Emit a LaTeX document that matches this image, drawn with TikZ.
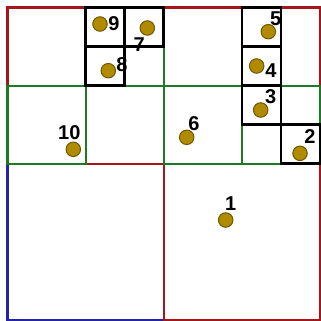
\documentclass[tikz,border=0pt]{standalone}
\usepackage{fontspec}
\setmainfont{Liberation Sans}
\definecolor{qred}{HTML}{A3171B}
\definecolor{qgreen}{HTML}{1E7A24}
\definecolor{qblue}{HTML}{2424A8}
\definecolor{dotfill}{HTML}{B08A00}
\definecolor{dotline}{HTML}{6E5800}
\tikzset{
  bluebox/.style={draw=qblue, line width=2.2pt},
  redbox/.style={draw=qred, line width=2.2pt},
  greenbox/.style={draw=qgreen, line width=2.2pt},
  blackbox/.style={draw=black, line width=2.7pt},
  pt/.style={circle, fill=dotfill, draw=dotline, line width=1pt, minimum size=14.5pt, inner sep=0pt},
  lbl/.style={inner sep=0pt, font=\fontsize{20}{20}\selectfont\bfseries}
}
\begin{document}
\begin{tikzpicture}[x=1pt,y=-1pt]
\useasboundingbox (0,0) rectangle (321,321);
% root
\draw[bluebox] (7.5,7.5) rectangle (320,320);
% level 1
\draw[redbox] (7.5,7.5) rectangle (163.75,163.75);
\draw[redbox] (163.75,7.5) rectangle (320,163.75);
\draw[redbox] (163.75,163.75) rectangle (320,320);
% level 2
\draw[greenbox] (7.5,85.6) rectangle (85.6,163.75);
\draw[greenbox] (85.6,7.5) rectangle (163.75,85.6);
\draw[greenbox] (163.75,85.6) rectangle (241.9,163.75);
\draw[greenbox] (241.9,85.6) rectangle (320,163.75);
% level 3
\draw[blackbox] (85.6,7.5) rectangle (124.7,46.6);
\draw[blackbox] (124.7,7.5) rectangle (163.75,46.6);
\draw[blackbox] (85.6,46.6) rectangle (124.7,85.6);
\draw[blackbox] (241.9,7.5) rectangle (281,46.6);
\draw[blackbox] (241.9,46.6) rectangle (281,85.6);
\draw[blackbox] (241.9,85.6) rectangle (281,124.7);
\draw[blackbox] (281,124.7) rectangle (320,163.75);
% points
\node[pt] (p1) at (225.7,220) {};
\node[pt] (p2) at (300,153.3) {};
\node[pt] (p3) at (260.7,110) {};
\node[pt] (p4) at (256.7,66) {};
\node[pt] (p5) at (268.3,31.7) {};
\node[pt] (p6) at (186.7,137.3) {};
\node[pt] (p7) at (147.3,28) {};
\node[pt] (p8) at (108.3,70.7) {};
\node[pt] (p9) at (100,24) {};
\node[pt] (p10) at (73.3,149.3) {};
% labels
\node[lbl] (l1) at (230.7,204) {1};
\node[lbl] (l2) at (310,136.7) {2};
\node[lbl] (l3) at (270.7,96.7) {3};
\node[lbl] (l4) at (271,70.7) {4};
\node[lbl] (l5) at (275.7,18.3) {5};
\node[lbl] (l6) at (194,123.3) {6};
\node[lbl] (l7) at (139.3,45) {7};
\node[lbl] (l8) at (122,65) {8};
\node[lbl] (l9) at (114,23.3) {9};
\node[lbl] (l10) at (69.3,132.7) {10};
\end{tikzpicture}
\end{document}
